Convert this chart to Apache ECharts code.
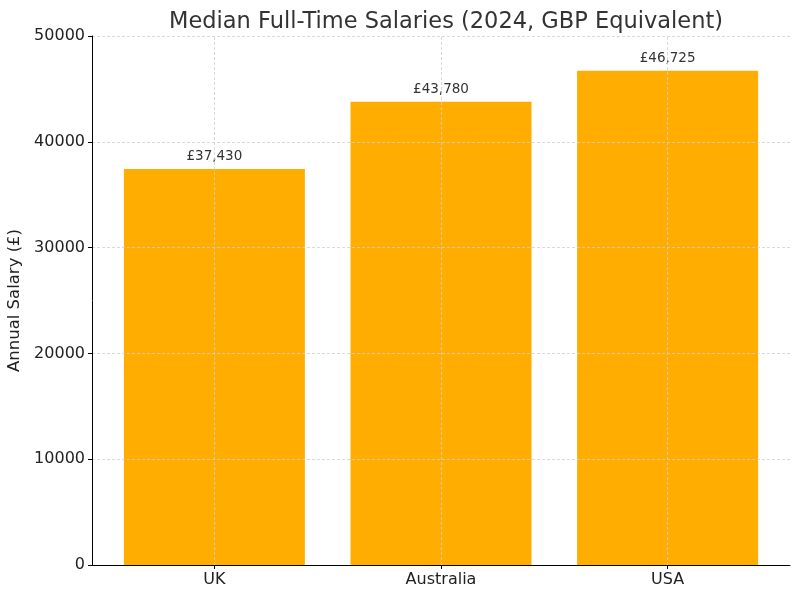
<!DOCTYPE html>
<html>
<head>
<meta charset="utf-8">
<script src="https://cdn.jsdelivr.net/npm/echarts@6/dist/echarts.min.js"></script>
<style>
  html, body { margin: 0; padding: 0; background: #fff; }
  #chart { width: 800px; height: 597px; }
</style>
</head>
<body>
<div id="chart"></div>
<script>
// data
var countries = ['UK', 'Australia', 'USA'];
var salaries = [37430, 43780, 46725];
var yTicks = [0, 10000, 20000, 30000, 40000, 50000];

var chart = echarts.init(document.getElementById('chart'));

var gridLine = { color: '#d0d0d0', width: 0.8, type: [3, 2] };
var positions = countries.map(function (c, i) { return i; });

var option = {
  backgroundColor: '#fff',
  textStyle: { fontFamily: 'DejaVu Sans' },
  title: {
    text: 'Median Full-Time Salaries (2024, GBP Equivalent)',
    left: 441,
    textAlign: 'center',
    top: 6,
    textStyle: { fontSize: 22.5, fontWeight: 'normal', color: '#333' }
  },
  grid: { left: 92, right: 10, top: 36, bottom: 32, outerBoundsMode: 'none', containLabel: false },
  xAxis: {
    type: 'value',
    // matplotlib-style padding around the bars
    min: -0.54,
    max: 2.54,
    z: 5,
    axisLine: { show: true, onZero: false, lineStyle: { color: '#000', width: 1 } },
    axisTick: { show: true, customValues: positions, length: 4, lineStyle: { color: '#000' } },
    axisLabel: {
      customValues: positions,
      fontSize: 16, color: '#222', margin: 7,
      formatter: function (v) { return countries[Math.round(v)]; }
    },
    splitLine: { show: false }
  },
  yAxis: {
    type: 'value',
    min: yTicks[0],
    max: yTicks[yTicks.length - 1],
    interval: yTicks[1] - yTicks[0],
    z: 5,
    name: 'Annual Salary (£)',
    nameLocation: 'middle',
    nameGap: 59,
    nameTextStyle: { fontSize: 16.5, color: '#222' },
    axisLine: { show: true, onZero: false, lineStyle: { color: '#000', width: 1 } },
    axisTick: { show: true, length: 4, lineStyle: { color: '#000' } },
    axisLabel: { fontSize: 16, color: '#222', margin: 7, formatter: function (v) { return String(v); } },
    splitLine: { show: true, lineStyle: gridLine }
  },
  series: [{
    type: 'bar',
    data: salaries.map(function (v, i) { return [i, v]; }),
    barWidth: 181,
    itemStyle: { color: '#FFAD00' },
    label: {
      show: true,
      position: 'top',
      distance: 5,
      fontSize: 13.5,
      color: '#333',
      formatter: function (p) { return '£' + p.value[1].toLocaleString('en-GB'); }
    },
    markLine: {
      silent: true,
      symbol: 'none',
      label: { show: false },
      lineStyle: gridLine,
      z: 4,
      data: positions.map(function (i) { return { xAxis: i }; })
    }
  }]
};

chart.setOption(option);
</script>
</body>
</html>
